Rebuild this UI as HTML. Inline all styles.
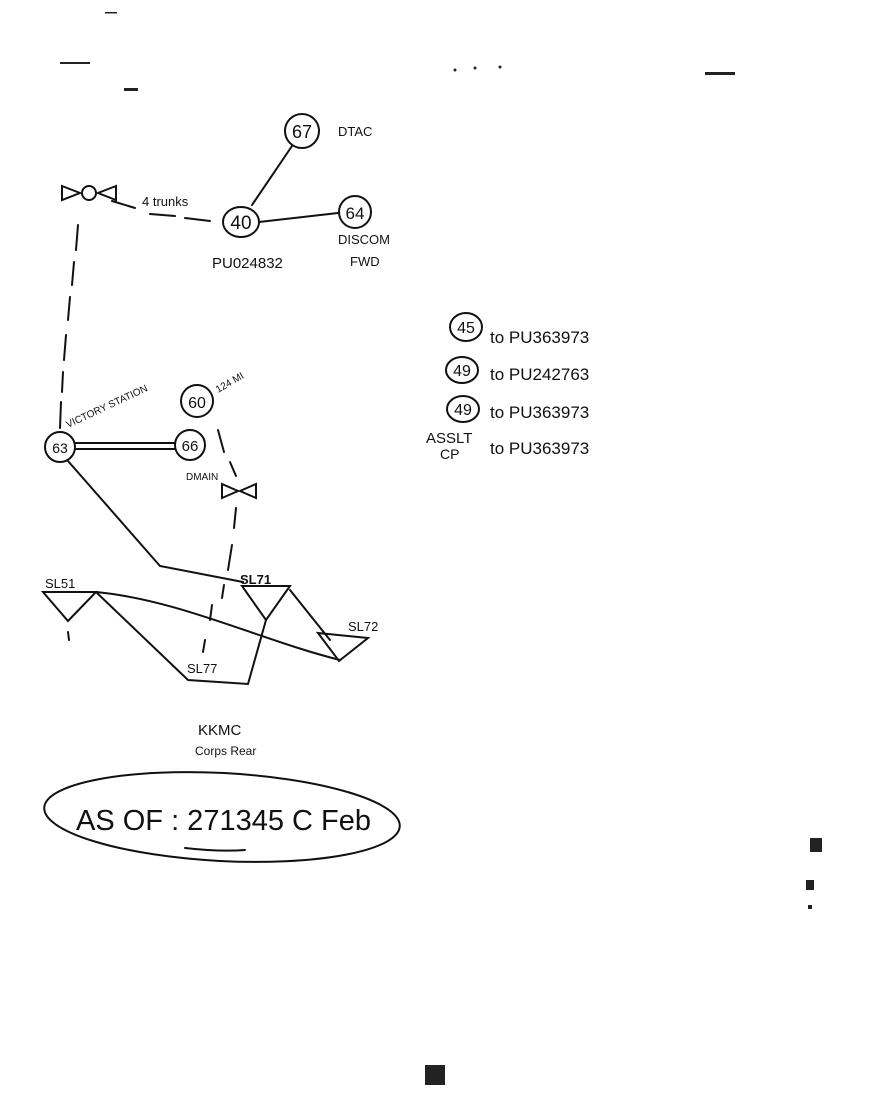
<!DOCTYPE html>
<html><head><meta charset="utf-8"><style>
html,body{margin:0;padding:0;background:#fff;}
svg{display:block;}
text{font-family:"Liberation Sans",sans-serif;fill:#111;}
</style></head><body>
<svg width="888" height="1120" viewBox="0 0 888 1120" xmlns="http://www.w3.org/2000/svg">
<g stroke="#111" stroke-width="2" fill="none" stroke-linecap="round">
<circle cx="302" cy="131" r="17"/>
<line x1="292" y1="146" x2="252" y2="205"/>
<ellipse cx="241" cy="222" rx="18" ry="15"/>
<line x1="259" y1="222" x2="338" y2="213"/>
<circle cx="355" cy="212" r="16"/>
<path d="M62 186 L80 193 L62 200 Z"/>
<path d="M116 186 L98 193 L116 200 Z"/>
<circle cx="89" cy="193" r="7"/>
<path d="M112 201 L135 208 M150 214 L175 216 M185 218 L210 221" />
<path d="M78 225 L76 250 M74 262 L72 285 M70 297 L68 320 M66 335 L64 360 M63 372 L62 392 M61 402 L60 428"/>
<circle cx="60" cy="447" r="15"/>
<line x1="75" y1="443" x2="175" y2="443"/>
<line x1="75" y1="449" x2="175" y2="449"/>
<circle cx="190" cy="445" r="15"/>
<circle cx="197" cy="401" r="16"/>
<path d="M218 430 L224 452 M230 462 L236 476"/>
<path d="M222 484 L238 491 L222 498 Z"/>
<path d="M256 484 L240 491 L256 498 Z"/>
<path d="M236 508 L234 528 M232 545 L228 570 M224 585 L222 598"/>
<path d="M68 461 L160 566 L243 582"/>
<path d="M43 592 L96 592 L68 621 Z"/>
<path d="M242 586 L290 586 L266 620 Z"/>
<path d="M318 633 L368 638 L339 661 Z"/>
<path d="M96 592 L188 680 L248 684 L266 620"/>
<path d="M96 592 C180 600 260 640 340 660"/>
<path d="M290 590 L330 640"/>
<path d="M212 605 L210 620 M205 640 L203 652"/>
<path d="M68 632 L69 640"/>
<ellipse cx="222" cy="817" rx="178" ry="44" transform="rotate(3 222 817)"/>
<path d="M185 848 Q220 852 245 850"/>
<ellipse cx="466" cy="327" rx="16" ry="14"/>
<ellipse cx="462" cy="370" rx="16" ry="13"/>
<ellipse cx="463" cy="409" rx="16" ry="13"/>
</g>
<g fill="#222">
<rect x="105" y="12" width="12" height="1.5"/>
<rect x="60" y="62" width="30" height="2"/>
<rect x="124" y="88" width="14" height="3"/>
<circle cx="455" cy="70" r="1.5"/><circle cx="475" cy="68" r="1.5"/><circle cx="500" cy="67" r="1.5"/>
<rect x="705" y="72" width="30" height="3"/>
<rect x="810" y="838" width="12" height="14"/>
<rect x="806" y="880" width="8" height="10"/>
<rect x="808" y="905" width="4" height="4"/>
<rect x="425" y="1065" width="20" height="20"/>
</g>
<g font-size="13">
<text x="302" y="138" font-size="18" text-anchor="middle">67</text>
<text x="338" y="136">DTAC</text>
<text x="241" y="229" font-size="19" text-anchor="middle">40</text>
<text x="355" y="219" font-size="17" text-anchor="middle">64</text>
<text x="338" y="244">DISCOM</text>
<text x="350" y="266">FWD</text>
<text x="212" y="268" font-size="15">PU024832</text>
<text x="142" y="206" font-size="13">4 trunks</text>
<text x="60" y="453" font-size="14" text-anchor="middle">63</text>
<text x="190" y="451" font-size="15" text-anchor="middle">66</text>
<text x="197" y="408" font-size="16" text-anchor="middle">60</text>
<text x="218" y="393" font-size="10" transform="rotate(-30 218 393)">124 MI</text>
<text x="68" y="428" font-size="10" transform="rotate(-25 68 428)">VICTORY STATION</text>
<text x="186" y="480" font-size="10">DMAIN</text>
<text x="45" y="588" font-size="13">SL51</text>
<text x="240" y="584" font-size="13" font-weight="bold">SL71</text>
<text x="348" y="631" font-size="13">SL72</text>
<text x="187" y="673" font-size="13">SL77</text>
<text x="198" y="735" font-size="15">KKMC</text>
<text x="195" y="755" font-size="12">Corps Rear</text>
<text x="76" y="830" font-size="29">AS  OF : 271345 C Feb</text>
<text x="466" y="333" font-size="16" text-anchor="middle">45</text>
<text x="490" y="343" font-size="17">to PU363973</text>
<text x="462" y="376" font-size="16" text-anchor="middle">49</text>
<text x="490" y="380" font-size="17">to PU242763</text>
<text x="463" y="415" font-size="16" text-anchor="middle">49</text>
<text x="490" y="418" font-size="17">to PU363973</text>
<text x="426" y="443" font-size="15">ASSLT</text>
<text x="440" y="459" font-size="14">CP</text>
<text x="490" y="454" font-size="17">to PU363973</text>
</g>
</svg>
</body></html>
